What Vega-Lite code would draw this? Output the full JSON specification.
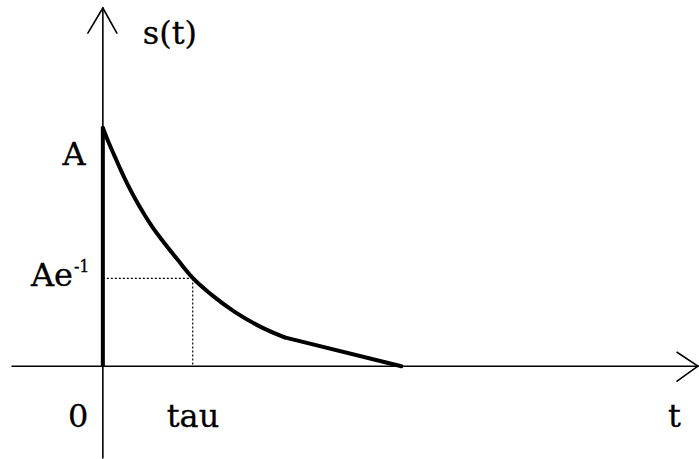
{
  "$schema": "https://vega.github.io/schema/vega-lite/v6.json",
  "width": 699,
  "height": 459,
  "autosize": {"type": "fit", "contains": "padding"},
  "padding": 0,
  "background": "white",
  "config": {"view": {"stroke": null}},
  "datasets": {
    "curve": [
      {"seg": "a", "i": 1, "t": 0, "s": 1},
      {"seg": "a", "i": 2, "t": 0.06, "s": 0.942},
      {"seg": "a", "i": 3, "t": 0.133, "s": 0.879},
      {"seg": "a", "i": 4, "t": 0.2, "s": 0.822},
      {"seg": "a", "i": 5, "t": 0.278, "s": 0.760},
      {"seg": "a", "i": 6, "t": 0.367, "s": 0.697},
      {"seg": "a", "i": 7, "t": 0.467, "s": 0.633},
      {"seg": "a", "i": 8, "t": 0.556, "s": 0.581},
      {"seg": "a", "i": 9, "t": 0.656, "s": 0.530},
      {"seg": "a", "i": 10, "t": 0.833, "s": 0.446},
      {"seg": "a", "i": 11, "t": 1.0, "s": 0.370},
      {"seg": "a", "i": 12, "t": 1.211, "s": 0.299},
      {"seg": "a", "i": 13, "t": 1.467, "s": 0.228},
      {"seg": "a", "i": 14, "t": 1.767, "s": 0.163},
      {"seg": "a", "i": 15, "t": 2.022, "s": 0.121},
      {"seg": "b", "i": 16, "t": 2.022, "s": 0.121},
      {"seg": "b", "i": 17, "t": 3.322, "s": 0}
    ],
    "segments": [
      {"kind": "axis", "t": -1.01, "s": 0, "t2": 6.622, "s2": 0},
      {"kind": "axis", "t": 0, "s": -0.385, "t2": 0, "s2": 1.502},
      {"kind": "axis", "t": 0, "s": 1.502, "t2": -0.167, "s2": 1.397},
      {"kind": "axis", "t": 0, "s": 1.502, "t2": 0.156, "s2": 1.397},
      {"kind": "axis", "t": 6.622, "s": 0, "t2": 6.389, "s2": 0.0586},
      {"kind": "axis", "t": 6.622, "s": 0, "t2": 6.389, "s2": -0.0628},
      {"kind": "dot", "t": 0, "s": 0.368, "t2": 1, "s2": 0.368},
      {"kind": "dot", "t": 1, "s": 0.368, "t2": 1, "s2": 0},
      {"kind": "pulse", "t": 0, "s": 0, "t2": 0, "s2": 1}
    ],
    "labels": [
      {"t": 0.444, "s": 1.351, "text": "s(t)", "size": 32},
      {"t": -0.45, "s": 0.845, "text": "A", "size": 32},
      {"t": -0.8, "s": 0.335, "text": "Ae", "size": 32},
      {"t": -0.322, "s": 0.397, "text": "-1", "size": 16},
      {"t": -0.389, "s": -0.255, "text": "0", "size": 32},
      {"t": 0.711, "s": -0.255, "text": "tau", "size": 32},
      {"t": 6.289, "s": -0.255, "text": "t", "size": 32}
    ]
  },
  "layer": [
    {
      "data": {"name": "segments"},
      "transform": [{"filter": "datum.kind === 'dot'"}],
      "mark": {"type": "rule", "color": "black", "strokeWidth": 1.2, "strokeDash": [2, 2]},
      "encoding": {
        "x": {"field": "t", "type": "quantitative", "scale": {"domain": [-1.1444, 6.6222], "nice": false, "zero": false}, "axis": null},
        "y": {"field": "s", "type": "quantitative", "scale": {"domain": [-0.3849, 1.5356], "nice": false, "zero": false}, "axis": null},
        "x2": {"field": "t2"},
        "y2": {"field": "s2"}
      }
    },
    {
      "data": {"name": "segments"},
      "transform": [{"filter": "datum.kind === 'axis'"}],
      "mark": {"type": "rule", "color": "black", "strokeWidth": 1.6, "strokeCap": "round"},
      "encoding": {
        "x": {"field": "t", "type": "quantitative", "scale": {"domain": [-1.1444, 6.6222], "nice": false, "zero": false}, "axis": null},
        "y": {"field": "s", "type": "quantitative", "scale": {"domain": [-0.3849, 1.5356], "nice": false, "zero": false}, "axis": null},
        "x2": {"field": "t2"},
        "y2": {"field": "s2"}
      }
    },
    {
      "data": {"name": "segments"},
      "transform": [{"filter": "datum.kind === 'pulse'"}],
      "mark": {"type": "rule", "color": "black", "strokeWidth": 4, "strokeCap": "butt"},
      "encoding": {
        "x": {"field": "t", "type": "quantitative", "scale": {"domain": [-1.1444, 6.6222], "nice": false, "zero": false}, "axis": null},
        "y": {"field": "s", "type": "quantitative", "scale": {"domain": [-0.3849, 1.5356], "nice": false, "zero": false}, "axis": null},
        "x2": {"field": "t2"},
        "y2": {"field": "s2"}
      }
    },
    {
      "data": {"name": "curve"},
      "mark": {"type": "line", "color": "black", "strokeWidth": 4, "strokeCap": "round", "strokeJoin": "round", "interpolate": "monotone"},
      "encoding": {
        "x": {"field": "t", "type": "quantitative", "scale": {"domain": [-1.1444, 6.6222], "nice": false, "zero": false}, "axis": null},
        "y": {"field": "s", "type": "quantitative", "scale": {"domain": [-0.3849, 1.5356], "nice": false, "zero": false}, "axis": null},
        "detail": {"field": "seg"},
        "order": {"field": "i", "type": "quantitative"}
      }
    },
    {
      "data": {"name": "labels"},
      "mark": {"type": "text", "color": "black", "stroke": "black", "strokeWidth": 0.3, "font": "DejaVu Serif", "align": "left", "baseline": "alphabetic"},
      "encoding": {
        "x": {"field": "t", "type": "quantitative", "scale": {"domain": [-1.1444, 6.6222], "nice": false, "zero": false}, "axis": null},
        "y": {"field": "s", "type": "quantitative", "scale": {"domain": [-0.3849, 1.5356], "nice": false, "zero": false}, "axis": null},
        "text": {"field": "text"},
        "size": {"field": "size", "type": "quantitative", "scale": null}
      }
    }
  ]
}
